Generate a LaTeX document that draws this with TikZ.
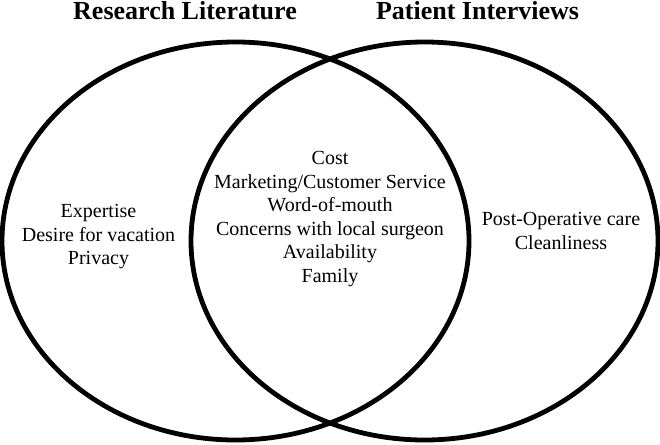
\documentclass[tikz,border=0pt]{standalone}
\usepackage{fontspec}
\setmainfont{Liberation Serif}
\begin{document}
\begin{tikzpicture}[x=1pt,y=-1pt,
  ring/.style={line width=4.8pt,black},
  title/.style={font=\fontsize{26}{28}\selectfont\bfseries,anchor=base,inner sep=0pt},
  body/.style={font=\fontsize{20}{23.5}\selectfont,align=center,inner sep=0pt}]
\useasboundingbox (0,0) rectangle (660,444);
\draw[ring] (235.5,241) ellipse [x radius=233.5, y radius=199];
\draw[ring] (424.5,241) ellipse [x radius=233.5, y radius=199];
\node[title] (tl) at (185,19.5) {Research Literature};
\node[title] (tr) at (477.5,19.5) {Patient Interviews};
\node[body] (left) at (98.5,237) {Expertise\\Desire for vacation\\Privacy};
\node[body] (mid) at (330,219) {Cost\\Marketing/Customer Service\\Word-of-mouth\\Concerns with local surgeon\\Availability\\Family};
\node[body] (right) at (561,231) {Post-Operative care\\Cleanliness};
\end{tikzpicture}
\end{document}
